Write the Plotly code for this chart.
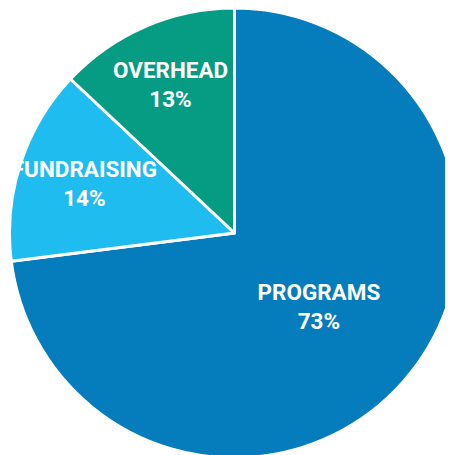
import plotly.graph_objects as go

# Spending breakdown
categories = ["PROGRAMS", "FUNDRAISING", "OVERHEAD"]
shares = [73, 14, 13]
slice_colors = ["#057dbd", "#1fbdef", "#069b83"]

fig = go.Figure()

fig.add_trace(go.Pie(
    labels=categories,
    values=shares,
    sort=False,
    direction="clockwise",
    rotation=0,
    marker=dict(colors=slice_colors, line=dict(color="white", width=3)),
    texttemplate="%{label}<br>%{percent:.0%}",
    textposition="inside",
    insidetextorientation="horizontal",
    textfont=dict(family="Roboto, Liberation Sans Narrow, DejaVu Sans Condensed",
                  size=23, color="white", weight="bold"),
    hoverinfo="label+percent",
    showlegend=False,
    domain=dict(x=[0, 1], y=[0, 1]),
))

fig.update_layout(
    width=453,
    height=450,
    margin=dict(l=0, r=0, t=0, b=0),
    paper_bgcolor="white",
    uniformtext=dict(minsize=22, mode="show"),
)

fig.write_html("out.html")
